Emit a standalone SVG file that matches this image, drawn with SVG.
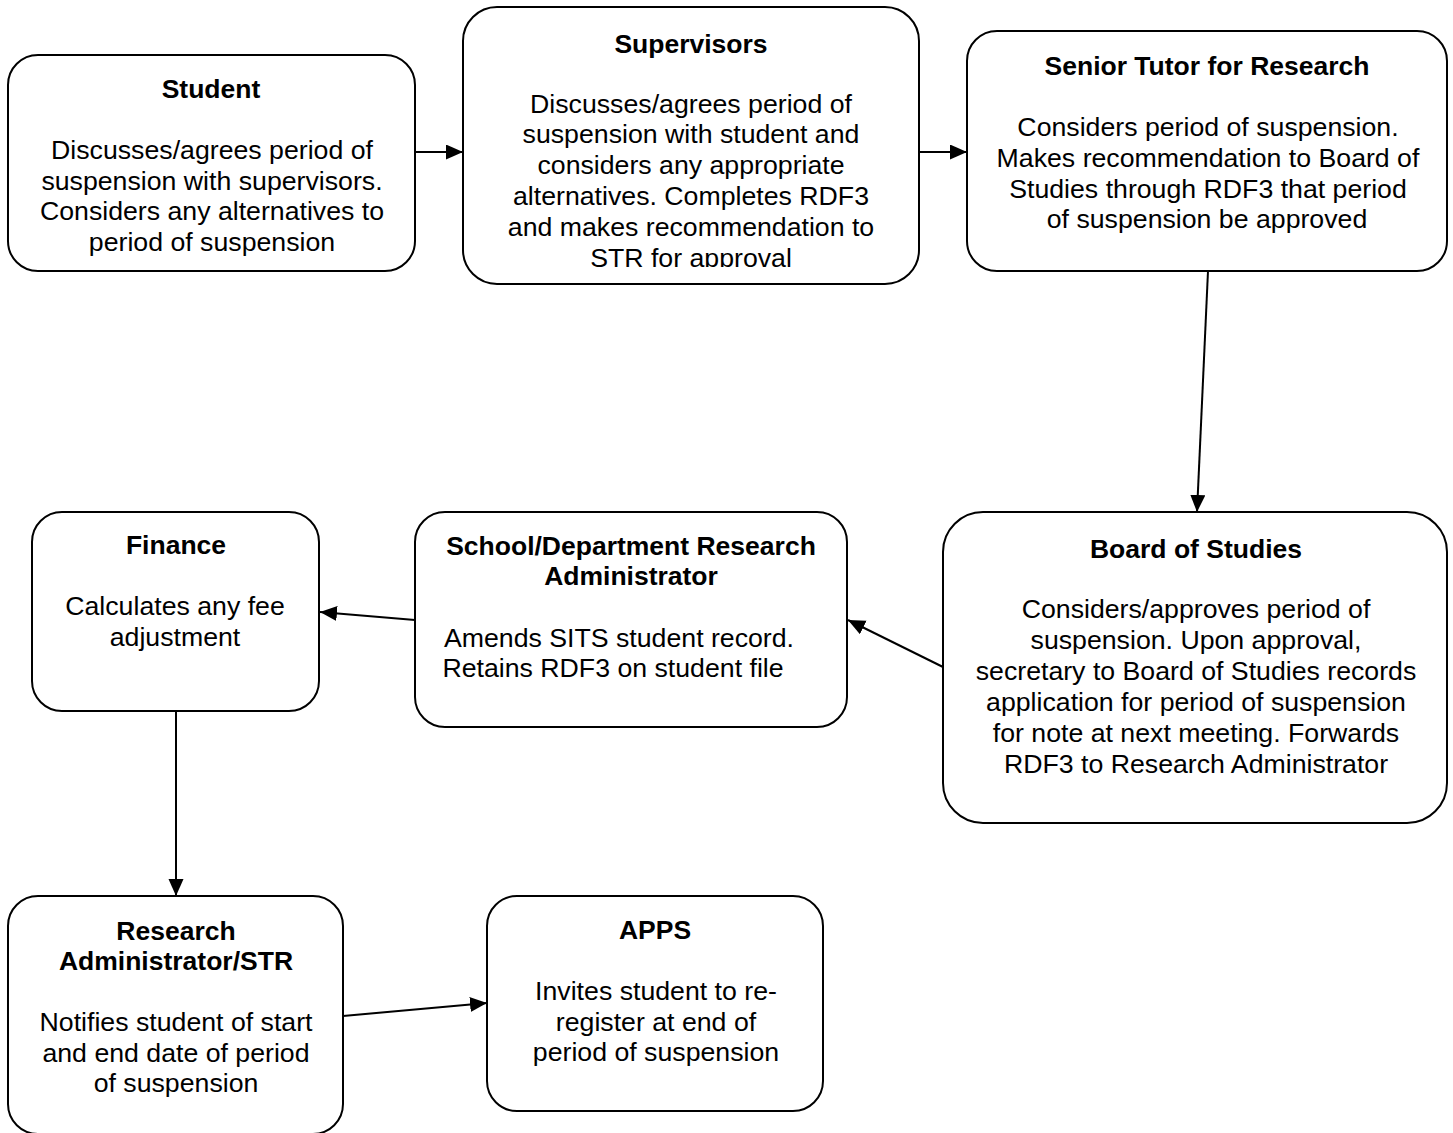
<svg xmlns="http://www.w3.org/2000/svg" width="1453" height="1133" viewBox="0 0 1453 1133">
  <style>
    .box { fill: #ffffff; stroke: #000000; stroke-width: 2; }
    .title { font-family: "Liberation Sans", Arial, sans-serif; font-weight: bold; font-size: 26.5px; text-anchor: middle; fill: #000; }
    .body { font-family: "Liberation Sans", Arial, sans-serif; font-size: 26.7px; text-anchor: middle; fill: #000; }
    .link { fill: none; stroke: #000000; stroke-width: 2; }
  </style>
  <defs>
    <marker id="arrow" markerUnits="userSpaceOnUse" markerWidth="19" markerHeight="17" refX="17" refY="7.5" orient="auto">
      <path d="M0,0 L17,7.5 L0,15 z" fill="#000000"/>
    </marker>
    <clipPath id="supClip">
      <rect x="463" y="7" width="456" height="260"/>
    </clipPath>
  </defs>
  <rect width="1453" height="1133" fill="#ffffff"/>

  <g id="connectors">
    <line class="link" x1="415" y1="152" x2="463" y2="152" marker-end="url(#arrow)"/>
    <line class="link" x1="919" y1="152" x2="967" y2="152" marker-end="url(#arrow)"/>
    <line class="link" x1="1208" y1="271" x2="1197" y2="512" marker-end="url(#arrow)"/>
    <line class="link" x1="943" y1="667" x2="848" y2="620" marker-end="url(#arrow)"/>
    <line class="link" x1="415" y1="620" x2="320" y2="612" marker-end="url(#arrow)"/>
    <line class="link" x1="176" y1="711" x2="176" y2="896" marker-end="url(#arrow)"/>
    <line class="link" x1="343" y1="1016" x2="487" y2="1003" marker-end="url(#arrow)"/>
  </g>

  <g id="student">
    <rect class="box" x="8" y="55" width="407" height="216" rx="30" ry="30"/>
    <text class="title" x="211" y="98">Student</text>
    <text class="body" x="212" y="159">Discusses/agrees period of</text>
    <text class="body" x="212" y="190">suspension with supervisors.</text>
    <text class="body" x="212" y="220">Considers any alternatives to</text>
    <text class="body" x="212" y="251">period of suspension</text>
  </g>

  <g id="supervisors">
    <rect class="box" x="463" y="7" width="456" height="277" rx="34" ry="34"/>
    <text class="title" x="691" y="53">Supervisors</text>
    <g clip-path="url(#supClip)">
      <text class="body" x="691" y="113">Discusses/agrees period of</text>
      <text class="body" x="691" y="143">suspension with student and</text>
      <text class="body" x="691" y="174">considers any appropriate</text>
      <text class="body" x="691" y="205">alternatives. Completes RDF3</text>
      <text class="body" x="691" y="236">and makes recommendation to</text>
      <text class="body" x="691" y="267">STR for approval</text>
    </g>
  </g>

  <g id="senior-tutor">
    <rect class="box" x="967" y="31" width="480" height="240" rx="30" ry="30"/>
    <text class="title" x="1207" y="75">Senior Tutor for Research</text>
    <text class="body" x="1208" y="136">Considers period of suspension.</text>
    <text class="body" x="1208" y="167">Makes recommendation to Board of</text>
    <text class="body" x="1208" y="198">Studies through RDF3 that period</text>
    <text class="body" x="1207" y="228">of suspension be approved</text>
  </g>

  <g id="board-of-studies">
    <rect class="box" x="943" y="512" width="504" height="311" rx="40" ry="40"/>
    <text class="title" x="1196" y="558">Board of Studies</text>
    <text class="body" x="1196" y="618">Considers/approves period of</text>
    <text class="body" x="1196" y="649">suspension. Upon approval,</text>
    <text class="body" x="1196" y="680">secretary to Board of Studies records</text>
    <text class="body" x="1196" y="711">application for period of suspension</text>
    <text class="body" x="1196" y="742">for note at next meeting. Forwards</text>
    <text class="body" x="1196" y="773">RDF3 to Research Administrator</text>
  </g>

  <g id="research-administrator">
    <rect class="box" x="415" y="512" width="432" height="215" rx="30" ry="30"/>
    <text class="title" x="631" y="555">School/Department Research</text>
    <text class="title" x="631" y="585">Administrator</text>
    <text class="body" x="619" y="647">Amends SITS student record.</text>
    <text class="body" x="613" y="677">Retains RDF3 on student file</text>
  </g>

  <g id="finance">
    <rect class="box" x="32" y="512" width="287" height="199" rx="30" ry="30"/>
    <text class="title" x="176" y="554">Finance</text>
    <text class="body" x="175" y="615">Calculates any fee</text>
    <text class="body" x="175" y="646">adjustment</text>
  </g>

  <g id="research-admin-str">
    <rect class="box" x="8" y="896" width="335" height="238" rx="30" ry="30"/>
    <text class="title" x="176" y="940">Research</text>
    <text class="title" x="176" y="970">Administrator/STR</text>
    <text class="body" x="176" y="1031">Notifies student of start</text>
    <text class="body" x="176" y="1062">and end date of period</text>
    <text class="body" x="176" y="1092">of suspension</text>
  </g>

  <g id="apps">
    <rect class="box" x="487" y="896" width="336" height="215" rx="30" ry="30"/>
    <text class="title" x="655" y="939">APPS</text>
    <text class="body" x="656" y="1000">Invites student to re-</text>
    <text class="body" x="656" y="1031">register at end of</text>
    <text class="body" x="656" y="1061">period of suspension</text>
  </g>
</svg>
